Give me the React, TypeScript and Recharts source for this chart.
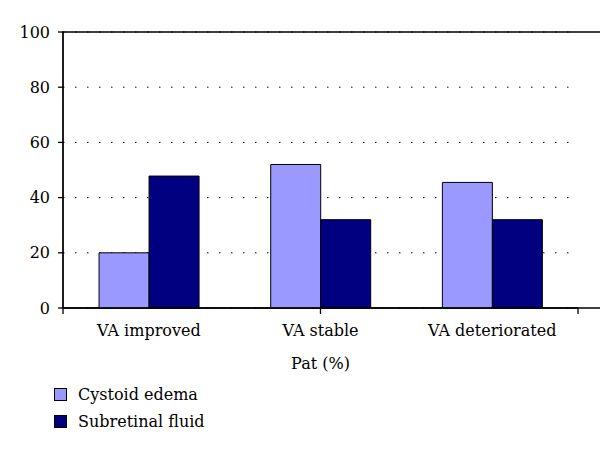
import { useEffect, useState } from "react";
import { Bar, BarChart, CartesianGrid, ReferenceArea, XAxis, YAxis } from "recharts";

const CATEGORIES = ["VA improved", "VA stable", "VA deteriorated"];
const CYSTOID_EDEMA = [20, 52, 45.5];
const SUBRETINAL_FLUID = [47.8, 32, 32];
const Y_TICKS = [0, 20, 40, 60, 80, 100];
const EDGE_TICKS = [0, 1, 2, 3];

const SERIES = [
  { key: "cystoid", name: "Cystoid edema", color: "#9999FF" },
  { key: "subretinal", name: "Subretinal fluid", color: "#000080" },
];

const INK = "#000";
const FONT = '"DejaVu Serif", "Liberation Serif", serif';
const TEXT = { fill: INK, fontSize: 16, fontFamily: FONT };

const rows = CATEGORIES.map((label, i) => ({
  label,
  cystoid: CYSTOID_EDEMA[i],
  subretinal: SUBRETINAL_FLUID[i],
}));

function ChartLegend() {
  return (
    <div style={{ position: "absolute", left: 54, top: 381, fontFamily: FONT, fontSize: 16, color: INK }}>
      {SERIES.map((s) => (
        <div key={s.key} style={{ display: "flex", alignItems: "center", height: 27 }}>
          <span
            style={{
              display: "inline-block",
              width: 11,
              height: 11,
              background: s.color,
              border: "1px solid #000",
              marginRight: 11,
            }}
          />
          {s.name}
        </div>
      ))}
    </div>
  );
}

export default function App() {
  // second render after layout settles
  const [, setReady] = useState(false);
  useEffect(() => {
    const t = setTimeout(() => setReady(true), 300);
    return () => clearTimeout(t);
  }, []);

  return (
    <div
      style={{
        position: "absolute",
        left: 0,
        top: 0,
        width: 600,
        height: 453,
        background: "#fff",
        fontFamily: FONT,
        fontSize: 16,
      }}
    >
      <BarChart
        width={600}
        height={453}
        data={rows}
        margin={{ top: 32, right: 22, bottom: 80, left: 0 }}
        barCategoryGap="21%"
        barGap={0}
      >
        <CartesianGrid xAxisId="cat" vertical={false} stroke={INK} strokeDasharray="1.5 10.5" />
        {/* default-id numeric axis: only draws the tick marks between categories */}
        <XAxis
          type="number"
          domain={[0, 3]}
          ticks={EDGE_TICKS}
          tickFormatter={() => ""}
          height={1}
          tickSize={6}
          stroke={INK}
          strokeWidth={1.3}
        />
        <XAxis
          xAxisId="cat"
          dataKey="label"
          height={64}
          axisLine={false}
          tickLine={false}
          tickMargin={10}
          tick={TEXT}
          label={{ value: "Pat (%)", position: "insideBottom", offset: 4, ...TEXT }}
        />
        <YAxis
          domain={[0, 100]}
          ticks={Y_TICKS}
          width={63}
          tickSize={5}
          tickMargin={8}
          stroke={INK}
          strokeWidth={1.3}
          tick={TEXT}
        />
        <ReferenceArea x1={0} x2={3} y1={0} y2={100} fill="none" stroke={INK} strokeWidth={1.3} ifOverflow="visible" />
        {SERIES.map((s) => (
          <Bar
            key={s.key}
            xAxisId="cat"
            dataKey={s.key}
            name={s.name}
            fill={s.color}
            stroke={INK}
            isAnimationActive={false}
          />
        ))}
      </BarChart>
      <ChartLegend />
    </div>
  );
}
